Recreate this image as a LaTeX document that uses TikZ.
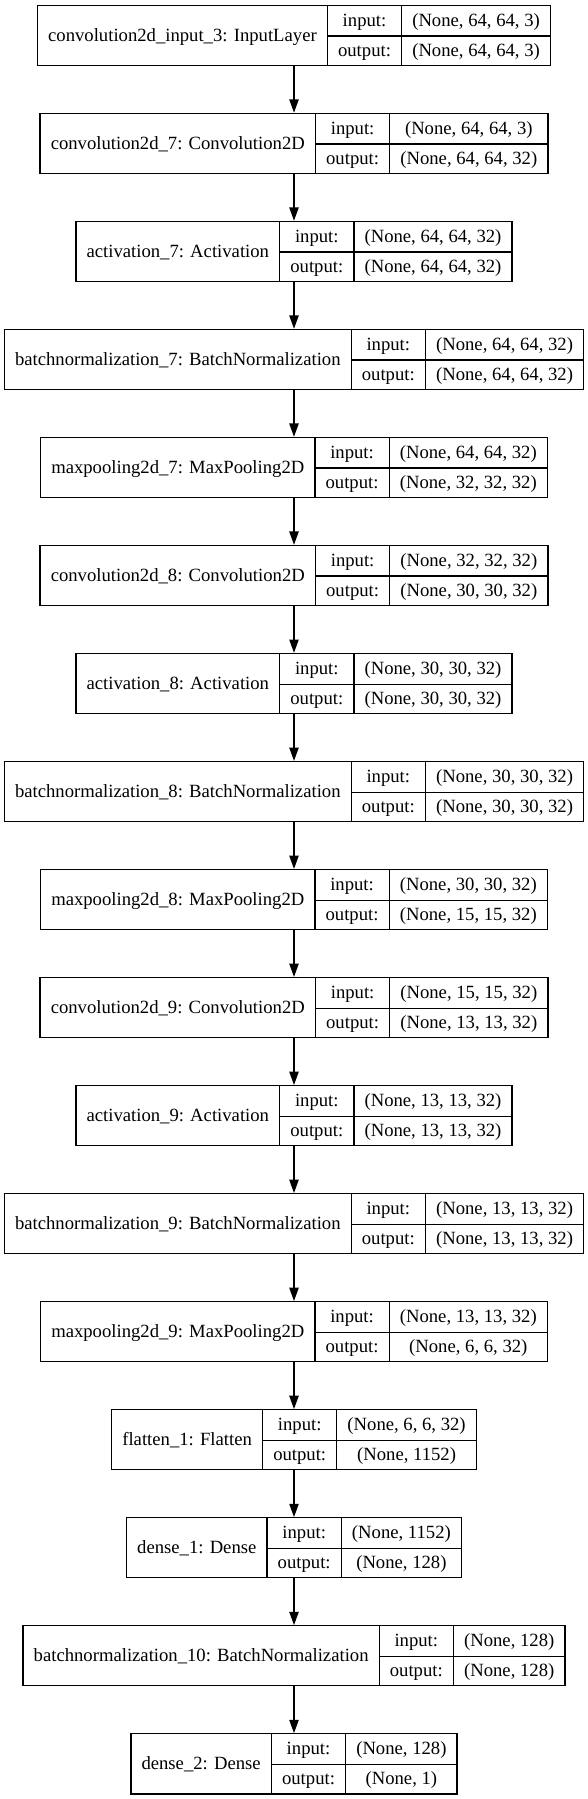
\documentclass[tikz,border=0pt]{standalone}
\usepackage{fontspec}
\setmainfont{Liberation Serif}
\usepackage{multirow}
\usetikzlibrary{arrows.meta}

\setlength{\arrayrulewidth}{1pt}
\setlength{\tabcolsep}{8pt}

\tikzset{
    layer/.style={draw, line width=1pt, inner sep=0pt, fill=white, font=\fontsize{14}{22.5}\selectfont},
    edge/.style={-{Triangle[length=10pt, width=7pt]}, line width=1pt}
}

\begin{document}
\begin{tikzpicture}[x=0.75pt, y=-0.75pt]
            \useasboundingbox (0,0) rectangle (588,1799);

            % Livelli
            \foreach \i/\nm/\inp/\outp in {
                    1/{convolution2d\_input\_3: InputLayer}/{(None, 64, 64, 3)}/{(None, 64, 64, 3)},
                    2/{convolution2d\_7: Convolution2D}/{(None, 64, 64, 3)}/{(None, 64, 64, 32)},
                    3/{activation\_7: Activation}/{(None, 64, 64, 32)}/{(None, 64, 64, 32)},
                    4/{batchnormalization\_7: BatchNormalization}/{(None, 64, 64, 32)}/{(None, 64, 64, 32)},
                    5/{maxpooling2d\_7: MaxPooling2D}/{(None, 64, 64, 32)}/{(None, 32, 32, 32)},
                    6/{convolution2d\_8: Convolution2D}/{(None, 32, 32, 32)}/{(None, 30, 30, 32)},
                    7/{activation\_8: Activation}/{(None, 30, 30, 32)}/{(None, 30, 30, 32)},
                    8/{batchnormalization\_8: BatchNormalization}/{(None, 30, 30, 32)}/{(None, 30, 30, 32)},
                    9/{maxpooling2d\_8: MaxPooling2D}/{(None, 30, 30, 32)}/{(None, 15, 15, 32)},
                    10/{convolution2d\_9: Convolution2D}/{(None, 15, 15, 32)}/{(None, 13, 13, 32)},
                    11/{activation\_9: Activation}/{(None, 13, 13, 32)}/{(None, 13, 13, 32)},
                    12/{batchnormalization\_9: BatchNormalization}/{(None, 13, 13, 32)}/{(None, 13, 13, 32)},
                    13/{maxpooling2d\_9: MaxPooling2D}/{(None, 13, 13, 32)}/{(None, 6, 6, 32)},
                    14/{flatten\_1: Flatten}/{(None, 6, 6, 32)}/{(None, 1152)},
                    15/{dense\_1: Dense}/{(None, 1152)}/{(None, 128)},
                    16/{batchnormalization\_10: BatchNormalization}/{(None, 128)}/{(None, 128)},
                    17/{dense\_2: Dense}/{(None, 128)}/{(None, 1)}} {
                    \node[layer] (L\i) at (294, {35.33+(\i-1)*108.03}) {%
                        \begin{tabular}{c|c|c}
                            \multirow{2}{*}{\nm} & input: & \inp \\ \cline{2-3}
                                                 & output: & \outp
                        \end{tabular}};
                }

            % Frecce
            \foreach \x [count=\y from 2] in {1,...,16} {
                    \draw[edge] (L\x) -- (L\y);
                }
        \end{tikzpicture}
\end{document}
